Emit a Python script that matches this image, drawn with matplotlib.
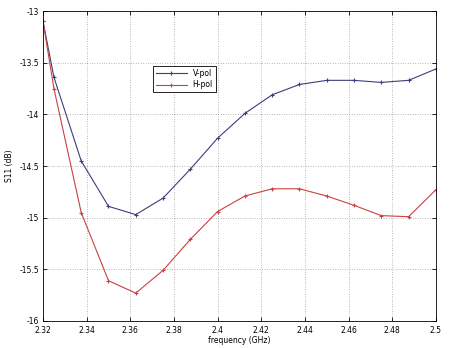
import matplotlib
matplotlib.use("Agg")
import matplotlib.pyplot as plt

freq = [2.32, 2.325, 2.3375, 2.35, 2.3625, 2.375, 2.3875, 2.4, 2.4125,
        2.425, 2.4375, 2.45, 2.4625, 2.475, 2.4875, 2.5]
s11_vpol = [-13.10, -13.64, -14.45, -14.89, -14.97, -14.81, -14.53, -14.23,
            -13.99, -13.81, -13.71, -13.67, -13.67, -13.69, -13.67, -13.56]
s11_hpol = [-13.10, -13.75, -14.95, -15.61, -15.73, -15.51, -15.21, -14.94,
            -14.79, -14.72, -14.72, -14.79, -14.88, -14.98, -14.99, -14.73]

xticks = [2.32, 2.34, 2.36, 2.38, 2.4, 2.42, 2.44, 2.46, 2.48, 2.5]
yticks = [-16, -15.5, -15, -14.5, -14, -13.5, -13]

plt.rcParams["font.family"] = "DejaVu Sans"

fig = plt.figure(figsize=(4.5, 3.48), dpi=100)
ax = fig.add_axes([0.0956, 0.0776, 0.873, 0.8904])

ax.plot(freq, s11_vpol, color="#3b3f7a", lw=0.8, marker="+", ms=3, mew=0.8, label="V-pol")
ax.plot(freq, s11_hpol, color="#c8423f", lw=0.8, marker="+", ms=3, mew=0.8, label="H-pol")

ax.set_xlim(2.32, 2.5)
ax.set_ylim(-16, -13)
ax.set_xticks(xticks)
ax.set_xticklabels([f"{t:g}" for t in xticks])
ax.set_yticks(yticks)
ax.set_yticklabels([f"{t:g}" for t in yticks])
ax.tick_params(direction="in", top=True, right=True, labelsize=5.5, length=3, width=0.6)
ax.tick_params(axis="x", pad=3.5)
ax.tick_params(axis="y", pad=3)
ax.grid(True, linestyle=(0, (1, 2.5)), color="#777777", lw=0.5)
for sp in ax.spines.values():
    sp.set_linewidth(0.6)

ax.set_xlabel("frequency (GHz)", fontsize=5.5, labelpad=1)
ax.set_ylabel("S11 (dB)", fontsize=5.5, labelpad=4)

leg = ax.legend(loc="upper left", bbox_to_anchor=(0.27, 0.835), fontsize=5.5,
                fancybox=False, framealpha=1, edgecolor="black", handlelength=4,
                borderpad=0.4, labelspacing=0.3)
leg.get_frame().set_linewidth(0.6)

fig.savefig("out.png", dpi=100, facecolor="white")
